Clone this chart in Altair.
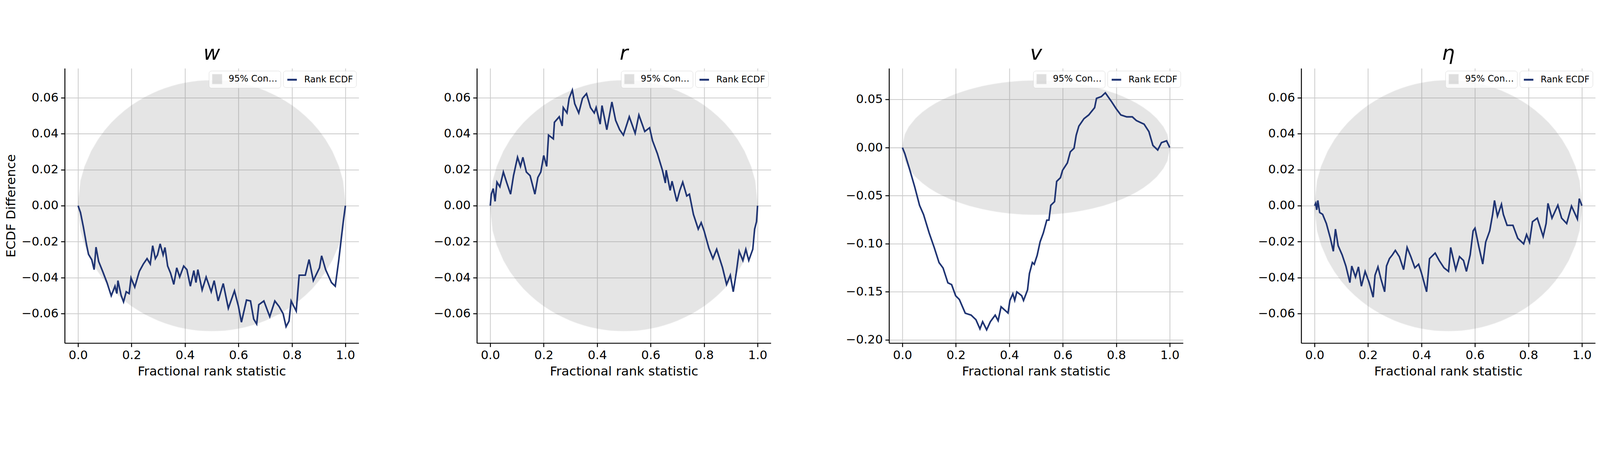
import altair as alt
import pandas as pd

# confidence band half-width (same for every panel)
band_x = [0.0, 0.01, 0.025, 0.05, 0.075, 0.1, 0.125, 0.15, 0.175, 0.2, 0.225, 0.25,
          0.275, 0.3, 0.325, 0.35, 0.375, 0.4, 0.425, 0.45, 0.475, 0.5]
band_h = [0.0, 0.0138, 0.0217, 0.0303, 0.0366, 0.0417, 0.046, 0.0496, 0.0528, 0.0556,
          0.058, 0.0602, 0.062, 0.0637, 0.0651, 0.0663, 0.0673, 0.0681, 0.0687, 0.0692,
          0.0694, 0.0695]

w_x = [0, 0.009, 0.02, 0.032, 0.039, 0.051, 0.06, 0.067, 0.077, 0.092, 0.108, 0.124, 0.138,
       0.145, 0.149, 0.161, 0.17, 0.18, 0.191, 0.198, 0.212, 0.229, 0.244, 0.258, 0.27, 0.279,
       0.289, 0.297, 0.307, 0.318, 0.325, 0.335, 0.346, 0.358, 0.369, 0.38, 0.395, 0.407, 0.42,
       0.433, 0.441, 0.448, 0.464, 0.479, 0.498, 0.509, 0.524, 0.543, 0.562, 0.585, 0.6, 0.611,
       0.63, 0.645, 0.657, 0.668, 0.676, 0.695, 0.717, 0.736, 0.752, 0.767, 0.778, 0.789, 0.797,
       0.816, 0.827, 0.85, 0.864, 0.88, 0.903, 0.911, 0.926, 0.948, 0.962, 0.975, 0.983, 0.992, 1.0]
w_y = [0, -0.0038, -0.012, -0.022, -0.027, -0.030, -0.0355, -0.023, -0.031, -0.0365, -0.0427,
       -0.050, -0.0447, -0.0488, -0.0416, -0.0498, -0.0534, -0.0478, -0.0488, -0.0401, -0.0452,
       -0.0365, -0.0324, -0.0294, -0.0324, -0.0222, -0.0294, -0.0273, -0.0212, -0.0273, -0.0232,
       -0.0335, -0.0375, -0.0437, -0.0345, -0.0396, -0.0335, -0.0355, -0.0447, -0.036, -0.0427,
       -0.0355, -0.0468, -0.0396, -0.0478, -0.0416, -0.0529, -0.0432, -0.057, -0.0473, -0.056,
       -0.0647, -0.0524, -0.0529, -0.063, -0.0657, -0.055, -0.0529, -0.0616, -0.0529, -0.056,
       -0.060, -0.0672, -0.0641, -0.0529, -0.0585, -0.0386, -0.0386, -0.0299, -0.0416, -0.0345,
       -0.0278, -0.0355, -0.0427, -0.0447, -0.0304, -0.0202, -0.0089, 0]

r_x = [0, 0.004, 0.011, 0.018, 0.025, 0.036, 0.049, 0.062, 0.076, 0.087, 0.102, 0.113, 0.122,
       0.135, 0.149, 0.167, 0.178, 0.189, 0.2, 0.211, 0.218, 0.236, 0.24, 0.258, 0.269, 0.273,
       0.287, 0.295, 0.307, 0.316, 0.331, 0.345, 0.36, 0.375, 0.389, 0.396, 0.411, 0.418, 0.436,
       0.455, 0.469, 0.484, 0.498, 0.52, 0.542, 0.556, 0.578, 0.596, 0.607, 0.625, 0.644, 0.655,
       0.658, 0.673, 0.68, 0.698, 0.709, 0.72, 0.735, 0.745, 0.76, 0.778, 0.789, 0.8, 0.818,
       0.833, 0.847, 0.869, 0.884, 0.898, 0.909, 0.92, 0.931, 0.945, 0.956, 0.967, 0.982, 0.989,
       0.996, 1.0]
r_y = [0, 0.0064, 0.0095, 0.0024, 0.0131, 0.0105, 0.0187, 0.0126, 0.0064, 0.0167, 0.0269,
       0.0218, 0.0269, 0.0187, 0.0167, 0.0064, 0.0157, 0.0187, 0.0279, 0.0218, 0.0392, 0.0371,
       0.0463, 0.0494, 0.0443, 0.0545, 0.0515, 0.0596, 0.0642, 0.0566, 0.0515, 0.0596, 0.0622,
       0.0545, 0.0515, 0.0545, 0.0453, 0.0556, 0.0422, 0.0576, 0.0474, 0.0422, 0.0392, 0.0494,
       0.0402, 0.0504, 0.0412, 0.0433, 0.0361, 0.029, 0.0197, 0.0126, 0.0197, 0.0085, 0.0136,
       0.0024, 0.0085, 0.0131, 0.0054, 0.0064, -0.0048, -0.013, -0.0094, -0.014, -0.0237,
       -0.0294, -0.0242, -0.0345, -0.0437, -0.0386, -0.0478, -0.0375, -0.0253, -0.0304, -0.0242,
       -0.0304, -0.0242, -0.013, -0.0089, 0]

v_x = [0, 0.009, 0.028, 0.046, 0.064, 0.079, 0.1, 0.119, 0.137, 0.152, 0.17, 0.184, 0.199,
       0.213, 0.235, 0.257, 0.275, 0.29, 0.3, 0.315, 0.329, 0.347, 0.358, 0.369, 0.387, 0.395,
       0.402, 0.413, 0.42, 0.428, 0.446, 0.453, 0.468, 0.475, 0.486, 0.493, 0.504, 0.515, 0.527,
       0.54, 0.548, 0.555, 0.569, 0.577, 0.591, 0.599, 0.617, 0.628, 0.642, 0.65, 0.66, 0.679,
       0.697, 0.708, 0.719, 0.726, 0.744, 0.759, 0.781, 0.799, 0.817, 0.839, 0.86, 0.875, 0.889,
       0.904, 0.922, 0.937, 0.955, 0.969, 0.988, 1.0]
v_y = [0, -0.0063, -0.0236, -0.0409, -0.060, -0.0696, -0.0888, -0.104, -0.1196, -0.1252,
       -0.1406, -0.1425, -0.154, -0.158, -0.1722, -0.1742, -0.179, -0.1885, -0.181, -0.1895,
       -0.181, -0.1742, -0.18, -0.1655, -0.170, -0.172, -0.159, -0.152, -0.1588, -0.150, -0.154,
       -0.159, -0.148, -0.131, -0.1195, -0.1214, -0.112, -0.098, -0.0888, -0.0754, -0.0754,
       -0.060, -0.0562, -0.0351, -0.0313, -0.0236, -0.0159, -0.0044, -0.0006, 0.0129, 0.0224,
       0.0301, 0.034, 0.0378, 0.0416, 0.0512, 0.0531, 0.057, 0.0483, 0.0407, 0.034, 0.032,
       0.032, 0.0282, 0.0263, 0.0244, 0.0167, 0.0023, -0.0025, 0.0052, 0.0071, 0]

eta_x = [0, 0.004, 0.008, 0.012, 0.019, 0.03, 0.044, 0.059, 0.07, 0.078, 0.088, 0.103, 0.117,
         0.132, 0.139, 0.153, 0.164, 0.175, 0.189, 0.204, 0.219, 0.226, 0.237, 0.248, 0.262,
         0.269, 0.28, 0.291, 0.302, 0.317, 0.333, 0.346, 0.36, 0.375, 0.389, 0.4, 0.419, 0.43,
         0.451, 0.466, 0.484, 0.501, 0.509, 0.528, 0.542, 0.557, 0.568, 0.582, 0.593, 0.6, 0.615,
         0.629, 0.64, 0.655, 0.666, 0.673, 0.684, 0.699, 0.706, 0.72, 0.742, 0.76, 0.782, 0.793,
         0.804, 0.815, 0.833, 0.855, 0.866, 0.873, 0.888, 0.91, 0.924, 0.943, 0.961, 0.983, 0.99, 1.0]
eta_y = [0, 0.0013, -0.0023, 0.0029, -0.0038, -0.0048, -0.0099, -0.0181, -0.0253, -0.013,
         -0.0222, -0.0273, -0.0335, -0.0427, -0.0335, -0.0396, -0.034, -0.0447, -0.0365, -0.0427,
         -0.0508, -0.0386, -0.034, -0.0406, -0.0478, -0.0335, -0.0294, -0.0273, -0.0248, -0.0283,
         -0.0355, -0.0232, -0.0283, -0.0345, -0.0325, -0.0375, -0.0478, -0.0294, -0.0263, -0.0304,
         -0.0345, -0.0365, -0.0232, -0.0355, -0.0283, -0.0304, -0.0365, -0.0273, -0.014, -0.0125,
         -0.0232, -0.0324, -0.0202, -0.014, -0.0048, 0.0029, -0.0058, 0.0008, -0.0048, -0.0109,
         -0.0109, -0.0181, -0.0212, -0.016, -0.0202, -0.0089, -0.0069, -0.0171, -0.0099, 0.0013,
         -0.0069, 0.0003, -0.0069, -0.0099, -0.0002, -0.0074, 0.0039, 0]

# full band: left half plus its mirror
bx = band_x + [round(1 - x, 3) for x in reversed(band_x[:-1])]
bh = band_h + list(reversed(band_h[:-1]))
band_df = pd.DataFrame({"x": bx, "lo": [-h for h in bh], "hi": bh,
                        "series": "95% Confidence Bands"})

NAVY = "#1f3473"


def panel(title, xs, ys, ydomain, yticks, ytitle):
    line_df = pd.DataFrame({"x": xs, "y": ys, "series": "Rank ECDF"})
    xenc = alt.X("x:Q", scale=alt.Scale(domain=[-0.05, 1.05], nice=False),
                 axis=alt.Axis(values=[0, 0.2, 0.4, 0.6, 0.8, 1.0], format=".1f"),
                 title="Fractional rank statistic")
    yscale = alt.Scale(domain=ydomain, nice=False, zero=False)
    yaxis = alt.Axis(values=yticks, format=".2f")

    area = alt.Chart(band_df).mark_area(
        opacity=0.2, stroke="#808080", strokeWidth=3, strokeOpacity=0.6
    ).encode(
        x=xenc,
        y=alt.Y("lo:Q", scale=yscale, axis=yaxis, title=ytitle),
        y2="hi:Q",
        fill=alt.Fill("series:N", scale=alt.Scale(range=["#808080"]),
                      legend=alt.Legend(title=None, orient="top-right", symbolType="square",
                                        symbolOpacity=0.25, symbolStrokeColor="#999999",
                                        offset=8)),
    )
    line = alt.Chart(line_df).mark_line(strokeWidth=5, clip=True).encode(
        x=xenc,
        y=alt.Y("y:Q", scale=yscale, axis=yaxis, title=ytitle),
        color=alt.Color("series:N", scale=alt.Scale(range=[NAVY]),
                        legend=alt.Legend(title=None, orient="top-right", symbolType="stroke",
                                          symbolStrokeWidth=6, offset=8)),
    )
    return (area + line).resolve_scale(fill="independent", color="independent").properties(
        width=926, height=866,
        title=alt.TitleParams(title, fontSize=64, fontStyle="italic", font="DejaVu Sans",
                              fontWeight="normal", offset=14),
    )


small = [-0.0763, 0.0763]
small_ticks = [-0.06, -0.04, -0.02, 0.0, 0.02, 0.04, 0.06]

chart = alt.hconcat(
    panel("w", w_x, w_y, small, small_ticks, "ECDF Difference"),
    panel("r", r_x, r_y, small, small_ticks, None),
    panel("v", v_x, v_y, [-0.2033, 0.0825], [-0.2, -0.15, -0.1, -0.05, 0.0, 0.05], None),
    panel("η", eta_x, eta_y, small, small_ticks, None),
    spacing=235,
).resolve_scale(fill="independent", color="independent").configure_view(
    stroke=None
).configure_axis(
    labelFont="DejaVu Sans", labelFontSize=38, labelColor="black",
    titleFont="DejaVu Sans", titleFontSize=40, titleFontWeight="normal", titleColor="black",
    domainColor="black", domainWidth=3, tickColor="black", tickWidth=3, tickSize=12,
    gridColor="#cccccc", gridWidth=2.5, labelPadding=8, titlePadding=12,
).configure_legend(
    labelFont="DejaVu Sans", labelFontSize=28, labelColor="black",
    fillColor="rgba(255,255,255,0.8)", strokeColor="#d0d0d0", cornerRadius=8,
    padding=10, symbolSize=900, rowPadding=8, labelOffset=20,
)

chart.save("out.html", embed_options={"renderer": "svg", "actions": False})
